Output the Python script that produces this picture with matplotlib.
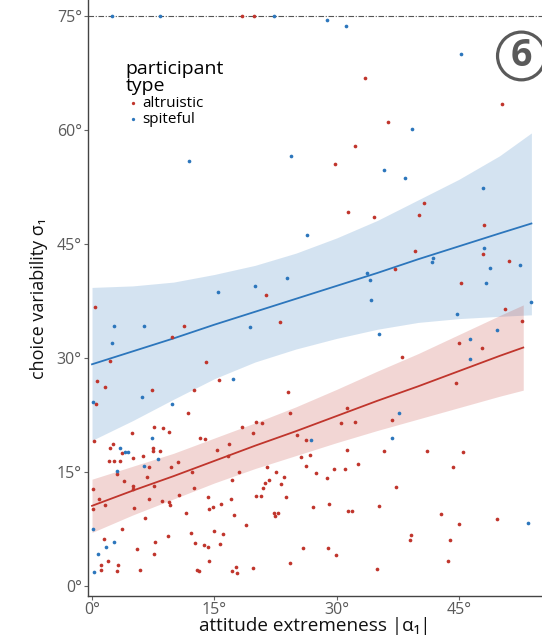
import matplotlib
matplotlib.use("Agg")
import matplotlib.pyplot as plt
import numpy as np

plt.rcParams['font.family'] = ['Open Sans', 'DejaVu Sans']

RED = "#C0352C"
BLUE = "#2C76BC"
GREY = "#5a5a5a"

# altruistic participants: attitude extremeness |a1| (deg), choice variability s1 (deg)
altr_x = [18.4, 19.9, 33.5, 50.3, 36.3, 32.3, 29.8, 31.4, 34.6, 40.7, 40.1, 48.1, 48.0, 39.6,
          51.2, 37.2, 45.3, 21.3, 0.4, 23.1, 50.7, 52.8, 9.8, 11.3, 2.2, 14.0, 45.0, 47.9,
          38.0, 0.6, 1.6, 15.6, 12.5, 7.4, 24.0, 44.7, 0.5, 11.8, 24.3, 31.3, 30.6, 32.3,
          36.8, 7.6, 8.7, 9.4, 4.9, 18.4, 20.1, 20.9, 19.8, 25.2, 26.3, 0.2, 2.6, 2.2,
          3.7, 5.0, 6.3, 7.5, 7.5, 8.3, 2.1, 2.7, 3.4, 13.3, 13.9, 15.3, 16.8, 16.7,
          10.6, 9.7, 7.0, 21.5, 12.3, 3.1, 18.0, 22.6, 21.7, 21.2, 6.7, 3.9, 17.2, 7.6,
          5.0, 5.0, 0.1, 12.5, 21.0, 7.0, 14.2, 10.7, 0.9, 8.6, 9.4, 9.6, 17.1, 15.8,
          14.8, 14.4, 1.6, 0.1, 5.2, 20.1, 20.7, 22.3, 22.8, 22.5, 11.5, 6.5, 17.4, 18.9,
          3.7, 15.0, 16.1, 12.1, 9.3, 7.7, 12.6, 15.7, 13.7, 14.2, 1.5, 5.5, 7.6, 2.0,
          14.4, 1.1, 3.2, 1.1, 3.1, 5.9, 12.9, 13.1, 17.7, 17.2, 17.8, 19.8,
          25.6, 26.7, 31.3, 35.8, 41.1, 45.5, 26.3, 32.6, 29.7, 31.0, 44.3, 27.5, 23.6,
          28.8, 23.2, 37.3, 23.8, 27.1, 29.1, 35.2, 31.4, 31.9, 42.8, 49.7, 45.0, 39.1,
          39.0, 43.9, 25.9, 29.0, 29.9, 24.3, 43.7, 35.0]
altr_y = [75.0, 75.0, 66.8, 63.4, 61.0, 57.9, 55.5, 49.2, 48.6, 50.4, 48.8, 47.5, 43.7, 44.1,
          42.8, 41.7, 39.9, 38.3, 36.7, 34.8, 36.5, 34.9, 32.8, 34.2, 29.6, 29.5, 32.0, 31.3,
          30.2, 27.0, 26.2, 27.1, 25.8, 25.8, 25.6, 26.7, 24.0, 22.8, 22.8, 23.5, 21.5, 21.6,
          21.9, 21.0, 20.8, 20.3, 20.2, 21.0, 21.6, 21.5, 20.2, 19.9, 19.3, 19.1, 18.7, 18.2,
          17.5, 16.9, 17.1, 18.2, 17.8, 17.8, 16.5, 16.5, 16.5, 19.5, 19.4, 17.9, 18.7, 17.1,
          16.4, 15.7, 15.7, 15.7, 15.0, 14.8, 15.0, 15.0, 14.0, 13.6, 14.4, 13.9, 14.0, 13.2,
          13.2, 12.8, 12.8, 12.9, 12.9, 11.5, 11.8, 12.0, 11.5, 11.2, 11.1, 10.7, 11.5, 10.8,
          10.4, 10.2, 10.7, 10.2, 10.3, 11.9, 11.9, 9.7, 9.7, 9.3, 9.7, 9.0, 9.4, 8.1,
          7.6, 7.3, 6.9, 7.0, 6.6, 5.8, 5.7, 5.6, 5.5, 5.2, 6.2, 4.9, 4.3, 3.4,
          3.4, 2.8, 2.8, 2.2, 2.0, 2.2, 2.2, 2.0, 2.6, 2.0, 1.8, 2.4,
          17.0, 17.3, 17.9, 17.8, 17.8, 17.7, 15.8, 16.1, 15.4, 15.4, 15.7, 14.9, 14.4,
          14.3, 13.5, 13.1, 11.8, 10.4, 10.8, 10.6, 9.9, 9.9, 9.5, 8.9, 8.2, 6.8,
          6.1, 6.1, 5.1, 5.1, 4.1, 3.1, 3.4, 2.3]

# spiteful participants
spit_x = [2.5, 8.3, 22.3, 28.8, 31.2, 45.3, 39.3, 24.4, 11.9, 35.8, 38.4, 48.0, 26.4, 48.1,
          41.8, 41.7, 52.5, 48.8, 23.9, 33.7, 34.1, 48.3, 15.5, 20.0, 34.2, 53.9, 44.8, 2.7,
          6.4, 2.5, 19.4, 35.2, 46.4, 49.7, 46.4, 17.3, 6.1, 0.1, 9.8, 37.7, 36.8, 26.9,
          7.4, 3.4, 4.0, 4.4, 8.1, 6.4, 3.1, 0.1, 2.7, 1.7, 0.7, 0.2, 53.5]
spit_y = [75.0, 75.0, 75.0, 74.4, 73.7, 70.0, 60.1, 56.6, 55.9, 54.7, 53.7, 52.4, 46.2, 44.5,
          43.2, 42.6, 42.2, 41.9, 40.5, 41.2, 40.3, 39.9, 38.7, 39.5, 37.6, 37.4, 35.8, 34.2,
          34.2, 32.0, 34.1, 33.2, 32.5, 33.7, 29.9, 27.3, 24.9, 24.2, 24.0, 22.8, 19.5, 19.3,
          19.5, 18.2, 17.7, 17.7, 16.8, 15.8, 15.2, 7.6, 5.8, 5.2, 4.3, 1.9, 8.3]

# linear fits with confidence bands
fit_x = [0, 5, 10, 15, 20, 25, 30, 35, 40, 45, 50, 53.9]
spit_fit = [29.2, 30.9, 32.6, 34.4, 36.1, 37.8, 39.5, 41.2, 43.0, 44.7, 46.4, 47.7]
spit_lo = [19.2, 21.8, 24.6, 27.3, 29.5, 31.2, 32.6, 33.8, 34.7, 35.2, 35.5, 35.7]
spit_hi = [39.3, 39.5, 40.0, 41.0, 42.2, 43.8, 45.8, 48.1, 50.8, 53.5, 56.6, 59.6]

fit_x_altr = [0, 5, 10, 15, 20, 25, 30, 35, 40, 45, 50, 52.9]
altr_fit = [10.6, 12.6, 14.5, 16.5, 18.5, 20.4, 22.4, 24.4, 26.3, 28.3, 30.3, 31.4]
altr_lo = [7.1, 9.4, 11.5, 13.6, 15.5, 17.2, 18.9, 20.5, 22.0, 23.5, 25.0, 25.8]
altr_hi = [14.1, 15.8, 17.5, 19.5, 21.5, 23.6, 25.9, 28.3, 30.6, 33.1, 35.6, 37.0]

ticks = [0, 15, 30, 45, 60, 75]
tick_labels = ["0°", "15°", "30°", "45°", "60°", "75°"]
CAP = 75


def plot_figure():
    fig = plt.figure(figsize=(5.42, 6.36), dpi=100)
    ax = fig.add_axes([0.1624, 0.0629, 0.8376, 0.9371])

    ax.fill_between(fit_x, spit_lo, spit_hi, color=BLUE, alpha=0.2, linewidth=0)
    ax.fill_between(fit_x_altr, altr_lo, altr_hi, color=RED, alpha=0.2, linewidth=0)
    ax.plot(fit_x, spit_fit, color=BLUE, linewidth=1.3)
    ax.plot(fit_x_altr, altr_fit, color=RED, linewidth=1.3)

    ax.axhline(CAP, color="#555555", linewidth=0.8, dashes=(5, 1.5, 1, 1.5))

    ax.scatter(altr_x, altr_y, s=7, color=RED, linewidths=0, label="altruistic", zorder=3)
    ax.scatter(spit_x, spit_y, s=7, color=BLUE, linewidths=0, label="spiteful", zorder=3)

    ax.set_xlim(-0.49, 55.2)
    ax.set_ylim(-1.25, 77.07)
    ax.set_xticks(ticks[:4])
    ax.set_xticklabels(tick_labels[:4])
    ax.set_yticks(ticks)
    ax.set_yticklabels(tick_labels)
    ax.tick_params(colors="#666666", labelcolor=GREY, labelsize=11.5, length=3, width=0.8, pad=1.5)

    for side in ["top", "right"]:
        ax.spines[side].set_visible(False)
    for side in ["left", "bottom"]:
        ax.spines[side].set_color("#444444")
        ax.spines[side].set_linewidth(1.0)

    ax.set_xlabel("attitude extremeness |α₁|", fontsize=13.6, color="#111111", labelpad=-1)
    ax.set_ylabel("choice variability σ₁", fontsize=13, color="#111111", labelpad=6)

    leg = ax.legend(title="participant\ntype", loc="upper left", bbox_to_anchor=(0.066, 0.912),
                    frameon=False, fontsize=11, title_fontsize=14, handletextpad=0.1,
                    labelspacing=0.05, borderpad=0, handlelength=1.0, markerscale=0.9)
    leg._legend_box.align = "left"
    leg.get_title().set_linespacing(0.95)

    fig.text(0.962, 0.912, "6", fontsize=27, fontweight="bold", color=GREY,
             ha="center", va="center",
             bbox=dict(boxstyle="circle,pad=0.13", fc="none", ec=GREY, lw=2.3))

    fig.savefig("out.png", dpi=100)
    plt.close(fig)


if __name__ == "__main__":
    plot_figure()
